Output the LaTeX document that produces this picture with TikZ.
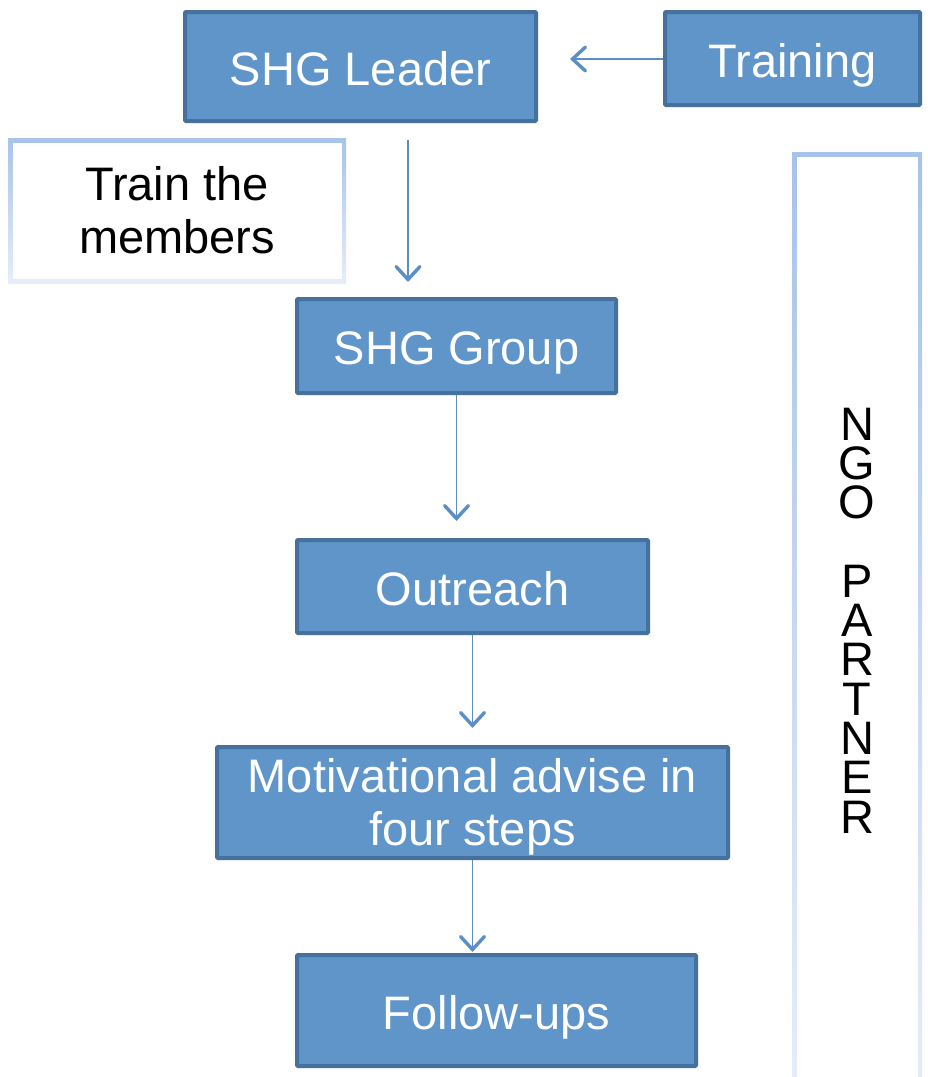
\documentclass[tikz,border=0pt]{standalone}
\usepackage{fontspec}
\setmainfont{Liberation Sans}
\usetikzlibrary{arrows.meta}
\definecolor{boxfill}{HTML}{5F95C9}
\definecolor{boxdraw}{HTML}{46709E}
\definecolor{arrowc}{HTML}{5B8EC6}
\definecolor{lighttop}{HTML}{A7C3E9}
\definecolor{lightbot}{HTML}{E6EDF8}
\newcommand{\tstrut}{\rule[-10pt]{0pt}{57pt}}
\newcommand{\mstrut}{\rule[-10pt]{0pt}{52.5pt}}
\begin{document}
\begin{tikzpicture}[x=1pt,y=-1pt,
  bigtext/.style={font=\fontsize{47}{53}\selectfont},
  bluebox/.style={bigtext, draw=boxdraw, line width=4pt, fill=boxfill, text=white,
    align=center, inner sep=0pt, rounded corners=1pt},
  lightbox/.style={bigtext, top color=lighttop, bottom color=lightbot, draw=none,
    text=black, align=center, inner sep=0pt,
    path picture={\fill[white] ([shift={(4.5pt,-4.5pt)}]path picture bounding box.north west)
      rectangle ([shift={(-4.5pt,4.5pt)}]path picture bounding box.south east);}},
  flow/.style={draw=arrowc, line width=1.7pt,
    -{Straight Barb[length=13pt,width=24pt,line width=3.4pt,line cap=round]}}
]
\useasboundingbox (0,0) rectangle (927,1077);
\clip (0,0) rectangle (927,1077);
\fill[white] (0,0) rectangle (927,1077);

\node[bluebox, minimum width=351pt, minimum height=109pt] (leader) at (360.5,66.5) {\tstrut SHG Leader};
\node[bluebox, minimum width=255pt, minimum height=93pt] (training) at (792.5,58.5) {\tstrut Training};
\node[lightbox, minimum width=338pt, minimum height=145pt] (train) at (177,210.5) {\mstrut Train the\\\mstrut members};
\node[bluebox, minimum width=319pt, minimum height=94pt] (group) at (456.5,346) {\tstrut SHG Group};
\node[bluebox, minimum width=351pt, minimum height=93pt] (outreach) at (472.5,586.5) {\tstrut Outreach};
\node[bluebox, minimum width=511pt, minimum height=111pt] (motiv) at (472.5,802.5) {\mstrut Motivational advise in\\\mstrut four steps};
\node[bluebox, minimum width=399pt, minimum height=111pt] (follow) at (496.5,1010.5) {\tstrut Follow-ups};
\node[lightbox, font=\fontsize{47}{39.3}\selectfont, minimum width=130pt, minimum height=937pt] (ngo) at (857,620.5)
  {N\\G\\O\\\mbox{}\\P\\A\\R\\T\\N\\E\\R};

\coordinate (tip1) at (570,59);
\coordinate (s2) at (408,140);
\coordinate (tip2) at (408,282);

\draw[flow] (training.west |- tip1) -- (tip1);
\draw[flow] (s2) -- (tip2);
\draw[flow, shorten >=17pt] (group.south) -- (group.south |- outreach.north);
\draw[flow, shorten >=17pt] (outreach.south) -- (outreach.south |- motiv.north);
\draw[flow, shorten >=1pt] (motiv.south) -- (motiv.south |- follow.north);
\end{tikzpicture}
\end{document}
